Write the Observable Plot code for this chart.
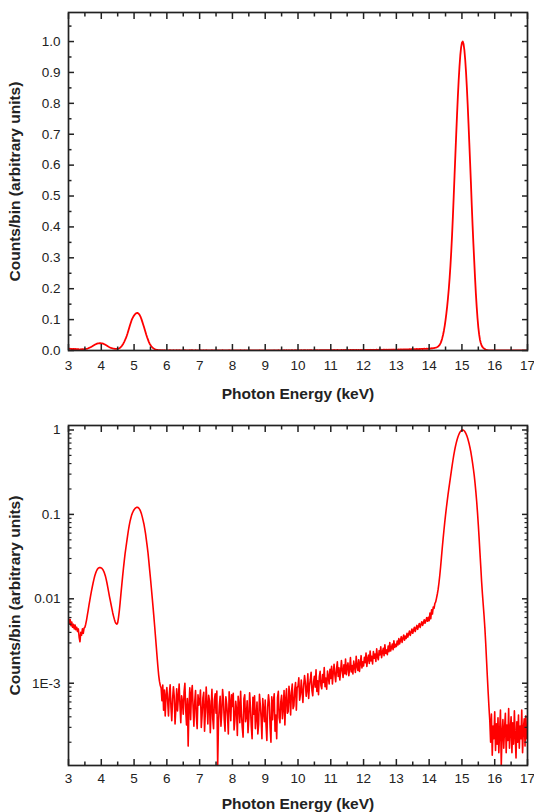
<!DOCTYPE html>
<html>
<head>
<meta charset="utf-8">
<script src="https://cdn.jsdelivr.net/npm/d3@7"></script>
<script src="https://cdn.jsdelivr.net/npm/@observablehq/plot@0.6"></script>
<style>
  html, body { margin: 0; padding: 0; background: #fff; }
  #chart { width: 534px; }
  #chart svg { display: block; overflow: visible; }
  g[aria-label="x-axis label"], g[aria-label="y-axis label"] { font-weight: bold; font-size: 15.5px; }
</style>
</head>
<body>
<div id="chart"></div>
<script>
// ---- Data: spectrum sampled every 0.025 keV, one row per keV (start energy given) ----
const binWidth = 0.025;

const counts3 = [0.0058,0.0051,0.0057,0.0048,0.0053,0.0046,0.0050,0.0044,0.0049,0.0043,
  0.0046,0.0041,0.0044,0.0035,0.0031,0.0040,0.0037,0.0044,0.0039,0.0045,
  0.0046,0.0050,0.0056,0.0064,0.0073,0.0084,0.0096,0.0109,0.0123,0.0138,
  0.0154,0.0170,0.0186,0.0200,0.0212,0.0222,0.0229,0.0233,0.0235,0.0234];

const counts4 = [0.0232,0.0228,0.0221,0.0212,0.0200,0.0186,0.0170,0.0153,0.0136,0.0120,
  0.0106,0.0095,0.0085,0.0076,0.0068,0.0062,0.0057,0.0053,0.0051,0.0050,
  0.0052,0.0060,0.0072,0.0090,0.0115,0.0145,0.0183,0.0228,0.028,0.034,
  0.040,0.047,0.055,0.064,0.073,0.082,0.090,0.098,0.104,0.109];

const counts5 = [0.1135,0.1170,0.1195,0.1210,0.1215,0.1205,0.1180,0.1140,0.1085,0.1015,
  0.0935,0.0850,0.0770,0.0680,0.0590,0.0500,0.0420,0.0350,0.0280,0.0220,
  0.0175,0.0137,0.0107,0.0083,0.0064,0.0049,0.0037,0.0028,0.0021,0.0016,
  0.00125,0.00105,0.00094,0.00088,0.00062,0.00095,0.00048,0.00083,0.00041,0.00071];

const counts6 = [8.9e-4,6.1e-4,4.1e-4,7.4e-4,9.6e-4,5.2e-4,3.6e-4,6.5e-4,9.1e-4,7.0e-4,
  3.3e-4,5.0e-4,8.6e-4,4.7e-4,6.8e-4,9.8e-4,5.6e-4,3.4e-4,7.1e-4,6.1e-4,
  4.3e-4,7.9e-4,10.0e-4,4.9e-4,3.2e-4,6.6e-4,1.8e-4,5.4e-4,8.8e-4,3.7e-4,
  7.6e-4,9.4e-4,5.2e-4,3.1e-4,6.0e-4,8.2e-4,4.0e-4,2.9e-4,7.3e-4,5.5e-4];

const counts7 = [5.9e-4,8.3e-4,3.0e-4,4.2e-4,6.7e-4,7.8e-4,2.7e-4,4.6e-4,9.0e-4,5.6e-4,
  3.3e-4,7.2e-4,6.2e-4,2.6e-4,5.1e-4,8.5e-4,3.8e-4,2.9e-4,6.4e-4,7.5e-4,
  4.4e-4,8.1e-4,1.07e-4,3.4e-4,5.4e-4,7.0e-4,3.1e-4,4.5e-4,8.4e-4,6.4e-4,
  3.7e-4,2.7e-4,6.9e-4,5.7e-4,4.1e-4,2.5e-4,7.9e-4,6.0e-4,3.6e-4,7.3e-4];

const counts8 = [5.3e-4,7.6e-4,2.8e-4,3.7e-4,6.1e-4,4.9e-4,2.4e-4,7.0e-4,5.6e-4,3.4e-4,
  8.0e-4,4.3e-4,3.0e-4,2.3e-4,6.5e-4,7.3e-4,3.5e-4,4.1e-4,6.2e-4,2.6e-4,
  3.8e-4,7.7e-4,5.2e-4,3.1e-4,2.2e-4,6.8e-4,4.3e-4,7.1e-4,2.9e-4,4.0e-4,
  6.0e-4,2.5e-4,3.3e-4,7.4e-4,5.5e-4,3.9e-4,2.2e-4,6.6e-4,4.8e-4,3.5e-4];

const counts9 = [6.3e-4,3.2e-4,2.1e-4,5.2e-4,7.3e-4,5.8e-4,3.0e-4,2.0e-4,6.9e-4,3.7e-4,
  6.1e-4,7.5e-4,2.7e-4,4.2e-4,2.2e-4,6.7e-4,8.0e-4,3.9e-4,3.4e-4,6.0e-4,
  7.2e-4,3.8e-4,5.1e-4,8.2e-4,3.2e-4,6.5e-4,8.6e-4,4.4e-4,4.6e-4,9.2e-4,
  7.0e-4,4.2e-4,7.8e-4,9.8e-4,5.0e-4,5.4e-4,8.4e-4,10.2e-4,4.8e-4,8.9e-4];

const counts10 = [9.2e-4,11.6e-4,6.3e-4,7.4e-4,10.9e-4,8.0e-4,5.9e-4,9.6e-4,12.3e-4,10.1e-4,
  7.0e-4,8.4e-4,12.9e-4,6.6e-4,9.3e-4,11.0e-4,13.5e-4,8.2e-4,7.1e-4,10.4e-4,
  12.1e-4,9.0e-4,14.4e-4,8.0e-4,10.7e-4,7.3e-4,11.9e-4,13.8e-4,9.4e-4,8.6e-4,
  12.7e-4,10.2e-4,15.3e-4,9.1e-4,11.5e-4,8.5e-4,13.9e-4,12.0e-4,9.8e-4,14.6e-4];

const counts11 = [11.4e-4,15.9e-4,9.8e-4,13.2e-4,16.8e-4,12.5e-4,10.4e-4,14.7e-4,17.9e-4,12.0e-4,
  15.2e-4,10.9e-4,13.8e-4,18.6e-4,14.1e-4,11.7e-4,16.5e-4,13.0e-4,19.4e-4,12.6e-4,
  15.8e-4,17.4e-4,12.3e-4,14.9e-4,20.1e-4,13.6e-4,16.2e-4,12.9e-4,18.3e-4,15.5e-4,
  13.4e-4,20.8e-4,16.0e-4,14.2e-4,18.9e-4,13.8e-4,17.1e-4,21.2e-4,15.2e-4,17.9e-4];

const counts12 = [16.0e-4,20.3e-4,17.5e-4,22.8e-4,15.8e-4,19.6e-4,21.5e-4,17.2e-4,24.0e-4,18.4e-4,
  20.9e-4,16.9e-4,23.7e-4,19.8e-4,22.2e-4,18.1e-4,25.6e-4,20.4e-4,19.0e-4,24.3e-4,
  21.7e-4,27.0e-4,20.1e-4,23.4e-4,25.9e-4,21.2e-4,28.6e-4,22.6e-4,24.8e-4,21.8e-4,
  27.5e-4,23.6e-4,30.4e-4,24.1e-4,26.3e-4,29.1e-4,25.0e-4,31.8e-4,26.5e-4,28.9e-4];

const counts13 = [27.2e-4,31.5e-4,28.4e-4,33.8e-4,29.2e-4,32.1e-4,35.6e-4,30.5e-4,34.0e-4,37.2e-4,
  32.4e-4,36.1e-4,33.9e-4,39.0e-4,35.2e-4,38.3e-4,41.5e-4,36.9e-4,40.2e-4,43.8e-4,
  39.1e-4,42.6e-4,46.0e-4,41.0e-4,44.9e-4,48.4e-4,43.5e-4,47.2e-4,51.0e-4,45.8e-4,
  49.6e-4,53.5e-4,48.4e-4,52.1e-4,56.4e-4,51.3e-4,55.0e-4,59.8e-4,54.2e-4,60.5e-4];

const counts14 = [0.0055,0.0068,0.0058,0.0074,0.0066,0.0080,0.0077,0.0088,0.0092,0.0102,
  0.0114,0.0130,0.0155,0.019,0.024,0.031,0.040,0.051,0.064,0.080,
  0.098,0.119,0.143,0.170,0.200,0.235,0.275,0.322,0.375,0.435,
  0.500,0.567,0.633,0.698,0.761,0.820,0.873,0.918,0.955,0.981];

const counts15 = [0.996,1.000,0.992,0.972,0.941,0.901,0.852,0.797,0.736,0.672,
  0.607,0.541,0.470,0.405,0.345,0.290,0.235,0.185,0.142,0.105,
  0.075,0.052,0.035,0.024,0.016,0.0115,0.0085,0.0063,0.0045,0.0030,
  0.0019,0.0012,0.00078,0.00052,3.6e-4,2.0e-4,4.3e-4,1.4e-4,3.1e-4,2.2e-4];

const counts16 = [4.6e-4,1.6e-4,3.3e-4,1.9e-4,3.9e-4,1.5e-4,2.7e-4,4.8e-4,1.07e-4,2.6e-4,
  3.7e-4,1.7e-4,2.9e-4,4.4e-4,1.5e-4,3.2e-4,2.1e-4,5.0e-4,1.7e-4,2.8e-4,
  4.0e-4,1.5e-4,3.4e-4,1.9e-4,4.7e-4,2.4e-4,1.3e-4,3.5e-4,2.0e-4,4.2e-4,
  1.7e-4,3.1e-4,2.2e-4,4.8e-4,1.5e-4,2.9e-4,3.8e-4,1.8e-4,4.1e-4,2.2e-4];

const counts17 = [2.9e-4];

const rowStarts = [3, 4, 5, 6, 7, 8, 9, 10, 11, 12, 13, 14, 15, 16, 17];
const rows = [counts3, counts4, counts5, counts6, counts7, counts8, counts9, counts10,
  counts11, counts12, counts13, counts14, counts15, counts16, counts17];

// ---- Axis ticks & labels ----
const xMajor = [3,4,5,6,7,8,9,10,11,12,13,14,15,16,17];
const xMinor = [3.5,4.5,5.5,6.5,7.5,8.5,9.5,10.5,11.5,12.5,13.5,14.5,15.5,16.5];
const yLinMajor = [0,0.1,0.2,0.3,0.4,0.5,0.6,0.7,0.8,0.9,1.0];
const yLinMinor = [0.05,0.15,0.25,0.35,0.45,0.55,0.65,0.75,0.85,0.95,1.05];
const yLogMajor = [1, 0.1, 0.01, 0.001];
const yLogLabels = ["1", "0.1", "0.01", "1E-3"];
const yLogMinor = [0.9,0.8,0.7,0.6,0.5,0.4,0.3,0.2,
  0.09,0.08,0.07,0.06,0.05,0.04,0.03,0.02,
  0.009,0.008,0.007,0.006,0.005,0.004,0.003,0.002,
  0.0009,0.0008,0.0007,0.0006,0.0005,0.0004,0.0003,0.0002];
const xTitle = "Photon Energy (keV)";
const yTitle = "Counts/bin (arbitrary units)";

const spectrum = rows.flatMap((vals, r) =>
  vals.map((v, i) => ({energy: +(rowStarts[r] + i * binWidth).toFixed(3), counts: v})));

const ink = "#222";
const lineColor = "#ff0000";
const blank = () => "";

function xAxes(labelOffset, tickPadding) {
  return [
    Plot.axisX({anchor: "bottom", ticks: xMajor, tickSize: -6, tickPadding, tickFormat: d => String(d),
      strokeWidth: 1.5, label: xTitle, labelAnchor: "center", labelOffset, labelArrow: "none"}),
    Plot.axisX({anchor: "bottom", ticks: xMinor, tickSize: -3.5, strokeWidth: 1.5, tickFormat: blank, label: null}),
    Plot.axisX({anchor: "top", ticks: xMajor, tickSize: -6, strokeWidth: 1.5, tickFormat: blank, label: null}),
    Plot.axisX({anchor: "top", ticks: xMinor, tickSize: -3.5, strokeWidth: 1.5, tickFormat: blank, label: null})
  ];
}

const common = {
  width: 534,
  marginLeft: 68,
  marginRight: 7,
  style: {fontFamily: "'Liberation Sans', Arial, sans-serif", fontSize: "13.5px", color: ink, background: "#fff"},
  x: {domain: [3, 17]}
};

const topPlot = Plot.plot({
  ...common,
  height: 400,
  marginTop: 12,
  marginBottom: 50,
  y: {domain: [0, 1.094]},
  marks: [
    Plot.line(spectrum, {x: "energy", y: "counts", stroke: lineColor, strokeWidth: 1.8, clip: true}),
    ...xAxes(48, 16),
    Plot.axisY({anchor: "left", ticks: yLinMajor, tickSize: -6, tickPadding: 14, strokeWidth: 1.5,
      tickFormat: d3.format(".1f"), label: yTitle, labelAnchor: "center", labelOffset: 60, labelArrow: "none"}),
    Plot.axisY({anchor: "left", ticks: yLinMinor, tickSize: -3.5, strokeWidth: 1.5, tickFormat: blank, label: null}),
    Plot.axisY({anchor: "right", ticks: yLinMajor, tickSize: -6, strokeWidth: 1.5, tickFormat: blank, label: null}),
    Plot.axisY({anchor: "right", ticks: yLinMinor, tickSize: -3.5, strokeWidth: 1.5, tickFormat: blank, label: null}),
    Plot.frame({stroke: ink, strokeWidth: 1.7})
  ]
});

const bottomPlot = Plot.plot({
  ...common,
  height: 412,
  marginTop: 25,
  marginBottom: 47,
  y: {type: "log", domain: [1.06e-4, 1.13]},
  marks: [
    Plot.line(spectrum, {x: "energy", y: "counts", stroke: lineColor, strokeWidth: 1.6, clip: true}),
    ...xAxes(43, 14),
    Plot.axisY({anchor: "left", ticks: yLogMajor, tickSize: -6, tickPadding: 14, strokeWidth: 1.5,
      tickFormat: d => yLogLabels[yLogMajor.indexOf(d)], label: yTitle, labelAnchor: "center", labelOffset: 60, labelArrow: "none"}),
    Plot.axisY({anchor: "left", ticks: yLogMinor, tickSize: -3.5, strokeWidth: 1.2, tickFormat: blank, label: null}),
    Plot.axisY({anchor: "right", ticks: yLogMajor, tickSize: -6, strokeWidth: 1.5, tickFormat: blank, label: null}),
    Plot.axisY({anchor: "right", ticks: yLogMinor, tickSize: -3.5, strokeWidth: 1.2, tickFormat: blank, label: null}),
    Plot.frame({stroke: ink, strokeWidth: 1.7})
  ]
});

const chart = document.getElementById("chart");
chart.appendChild(topPlot);
chart.appendChild(bottomPlot);
</script>
</body>
</html>
